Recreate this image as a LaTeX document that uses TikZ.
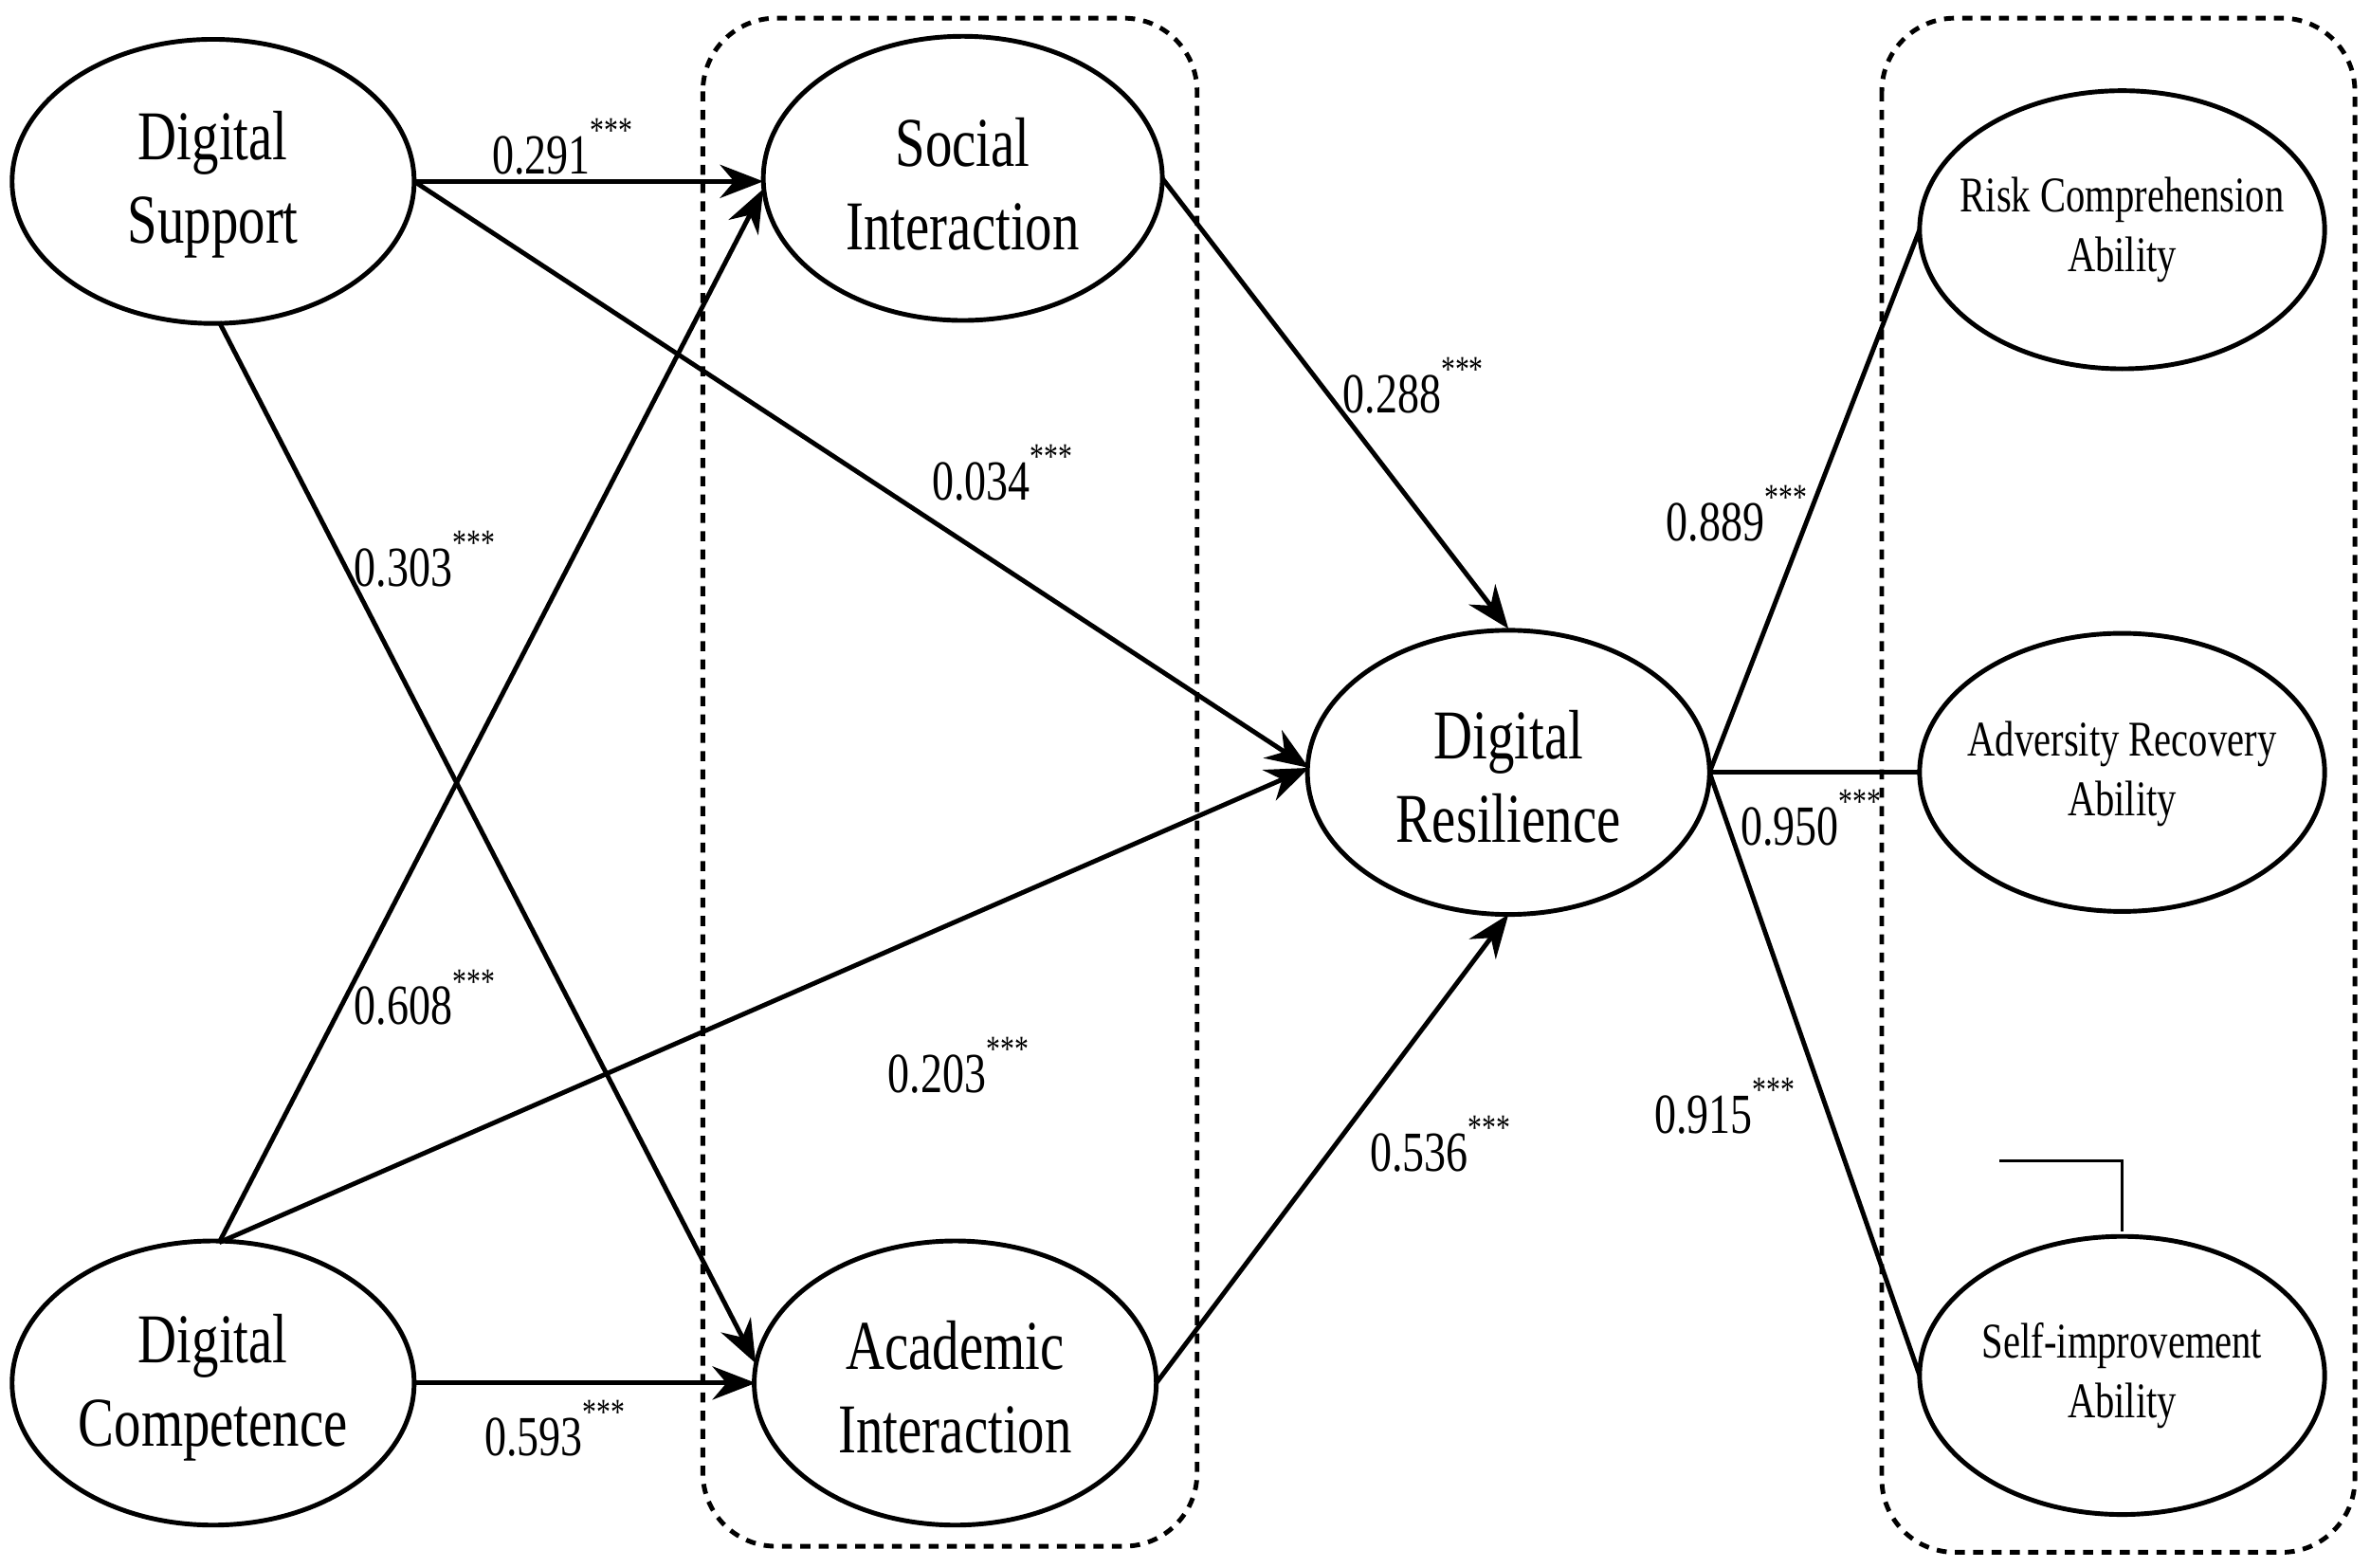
\documentclass[tikz,border=0pt]{standalone}
\usepackage{fontspec}
\setmainfont{Liberation Serif}[FakeStretch=0.77]
\usetikzlibrary{shapes.geometric,arrows.meta}
\newcommand{\stars}{\raisebox{0.55em}{\fontsize{11}{11}\selectfont ***}}
\begin{document}
\begin{tikzpicture}[x=0.01595cm,y=-0.01595cm,
  el/.style={draw,line width=1.4pt},
  txt/.style={font=\fontsize{21}{25}\selectfont,align=center},
  stxt/.style={font=\fontsize{15}{18}\selectfont,align=center},
  lab/.style={font=\fontsize{17}{20}\selectfont,inner sep=0pt},
  arr/.style={line width=1.4pt,-{Stealth[length=13pt,width=10pt]}},
  ln/.style={line width=1.4pt},
  box/.style={draw,dashed,line width=1.4pt,dash pattern=on 3pt off 2.5pt,rounded corners=22pt}]
\useasboundingbox (0,0) rectangle (1568,1037);
\draw[box] (465,12) rectangle (792,1023);
\draw[box] (1245,12) rectangle (1558,1027);
\draw[el] (141,120) ellipse (133 and 94);
\draw[el] (637,118) ellipse (132 and 94);
\draw[el] (141,915) ellipse (133 and 94);
\draw[el] (632,915) ellipse (133 and 94);
\draw[el] (998,511) ellipse (133 and 94);
\draw[el] (1404,152) ellipse (134 and 92);
\draw[el] (1404,511) ellipse (134 and 92);
\draw[el] (1404,910) ellipse (134 and 92);
\node[txt] (ds) at (141,122) {Digital\\Support};
\node[txt] (si) at (637,122) {Social\\Interaction};
\node[txt] (dc) at (141,918) {Digital\\Competence};
\node[txt] (ai) at (632,918) {Academic\\Interaction};
\node[txt] (dr) at (998,514) {Digital\\Resilience};
\node[stxt] (rc) at (1404,152) {Risk Comprehension\\Ability};
\node[stxt] (ar) at (1404,512) {Adversity Recovery\\Ability};
\node[stxt] (sa) at (1404,910) {Self-improvement\\Ability};
\coordinate (dsR) at (274,120); \coordinate (dsB) at (145,213);
\coordinate (siL) at (505,120); \coordinate (siL2) at (505,125); \coordinate (siR) at (769,118);
\coordinate (dcT) at (145,822); \coordinate (dcR) at (274,915);
\coordinate (aiL) at (500,915); \coordinate (aiL2) at (500,902); \coordinate (aiR) at (765,915);
\coordinate (drL) at (866,508); \coordinate (drT) at (998,416); \coordinate (drB) at (998,605); \coordinate (drR) at (1131,511);
\coordinate (rcL) at (1270,152); \coordinate (arL) at (1270,511); \coordinate (saL) at (1270,910);
\draw[arr] (dsR) -- (siL);
\draw[arr] (dsR) -- (drL);
\draw[arr] (dsB) -- (aiL2);
\draw[arr] (dcT) -- (siL2);
\draw[arr] (dcT) -- (drL);
\draw[arr] (dcR) -- (aiL);
\draw[arr] (siR) -- (drT);
\draw[arr] (aiR) -- (drB);
\draw[ln] (drR) -- (rcL);
\draw[ln] (drR) -- (arL);
\draw[ln] (drR) -- (saL);
\coordinate (b1) at (1323,768); \coordinate (b2) at (1404,768); \coordinate (b3) at (1404,815);
\draw[line width=1pt] (b1) -- (b2) -- (b3);
\node[lab] (l1) at (372,97) {0.291\stars};
\node[lab] (l2) at (663,313) {0.034\stars};
\node[lab] (l3) at (281,370) {0.303\stars};
\node[lab] (l4) at (281,660) {0.608\stars};
\node[lab] (l5) at (634,705) {0.203\stars};
\node[lab] (l6) at (367,945) {0.593\stars};
\node[lab] (l7) at (935,255) {0.288\stars};
\node[lab] (l8) at (953,757) {0.536\stars};
\node[lab] (l9) at (1149,340) {0.889\stars};
\node[lab] (l10) at (1198,541) {0.950\stars};
\node[lab] (l11) at (1141,732) {0.915\stars};
\end{tikzpicture}
\end{document}
